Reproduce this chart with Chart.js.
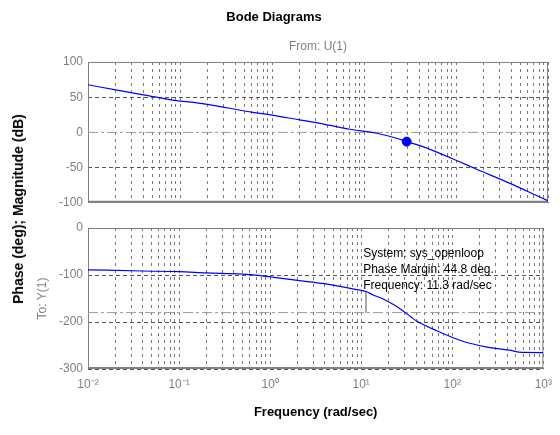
<!DOCTYPE html>
<html>
<head>
<meta charset="utf-8">
<script src="https://cdn.jsdelivr.net/npm/chart.js@4.4.1/dist/chart.umd.min.js"></script>
<style>
  html, body { margin: 0; padding: 0; background: #ffffff; }
  #wrap { position: relative; width: 560px; height: 435px; overflow: hidden; background: #fff; }
  #c1 { position: absolute; left: 0; top: 0; }
  #c2 { position: absolute; left: 0; top: 215px; }
  #ylab { position: absolute; left: 18px; top: 209px; transform: translate(-50%, -50%) rotate(-90deg);
          white-space: nowrap; font: bold 14px "Liberation Sans", Arial, sans-serif; color: #000; }
</style>
</head>
<body>
<div id="wrap">
  <canvas id="c1" width="560" height="215"></canvas>
  <canvas id="c2" width="560" height="220"></canvas>
  <div id="ylab">Phase (deg); Magnitude (dB)</div>
</div>
<script>
// ---------------- data ----------------
const magFreq  = [0.01, 0.02, 0.04, 0.08, 0.19, 0.6, 1, 2, 3, 7, 13.7, 22.6, 29.1, 40.6, 56.6, 100, 168, 386, 968, 1000];
const magDb    = [67.7, 60.3, 53.2, 46.3, 40.2, 28.8, 24.5, 17.8, 14, 4.5, -1.2, -8.3, -13.1, -18.8, -25.9, -39.5, -52.4, -72.4, -96.2, -97];
const phaseFreq = [0.01, 0.04, 0.1, 0.2, 0.5, 0.74, 1, 2, 3.93, 9.05, 11.3, 13.7, 17.9, 22.6, 29.1, 40.6, 67.6, 130.6, 234, 420, 586, 1000];
const phaseDeg  = [-89, -91.5, -93, -95.5, -98, -100.8, -104, -111.5, -118.5, -131.3, -135.2, -143, -152, -163, -177, -198, -218.5, -241, -253, -260, -264.7, -265];
const gmFreq = [29.1];          // gain-margin marker
const gmMag  = [-13.1];
const pmFreq = [11.3, 11.3];    // phase-margin indicator
const pmPhase = [-135.2, -180];
const magRef = 0;               // 0 dB reference
const phaseRef = -180;          // -180 deg reference
const xDomain = [0.01, 1000];
const xDecades = [0.01, 0.1, 1, 10, 100, 1000];
const xTickLabels = ['10\u207B\u00B2', '10\u207B\u00B9', '10\u2070', '10\u00B9', '10\u00B2', '10\u00B3'];
const xMinorMult = [2, 3, 4, 5, 6, 7, 8, 9];
const magTicks = [-100, -50, 0, 50, 100];
const phaseTicks = [-300, -200, -100, 0];
const annotLines = ['System: sys_openloop', 'Phase Margin: 44.8 deg.', 'Frequency: 11.3 rad/sec'];

// ---------------- helpers ----------------
const FONT = '"Liberation Sans", Arial, sans-serif';
const GRID_V = '#7a7a7a';
const GRID_H = '#555555';
const xTickValues = [];
xDecades.forEach((d, i) => {
  xTickValues.push(d);
  if (i < xDecades.length - 1) xMinorMult.forEach(m => xTickValues.push(+(d * m).toPrecision(6)));
});
const pts = (xs, ys) => xs.map((x, i) => ({ x: x, y: ys[i] }));

const framePlugin = {
  id: 'frame',
  beforeDatasetsDraw(chart) {
    const { ctx, chartArea: a } = chart;
    ctx.save();
    ctx.strokeStyle = '#808080';
    ctx.lineWidth = 1;
    ctx.setLineDash([]);
    ctx.strokeRect(a.left + 0.5, a.top + 0.5, a.right - a.left - 1, a.bottom - a.top - 1);
    ctx.lineWidth = 2;
    ctx.beginPath();
    ctx.moveTo(a.left, a.bottom - 1);
    ctx.lineTo(a.right, a.bottom - 1);
    ctx.stroke();
    ctx.restore();
  }
};

const annotPlugin = {
  id: 'annot',
  afterDatasetsDraw(chart, args, opts) {
    if (!opts || !opts.lines) return;
    const { ctx } = chart;
    const xs = chart.scales.x, ys = chart.scales.y;
    const x0 = xs.getPixelForValue(opts.freq);
    const y0 = ys.getPixelForValue(opts.phase);
    ctx.save();
    ctx.font = '12px ' + FONT;
    ctx.fillStyle = '#000';
    ctx.textBaseline = 'middle';
    ctx.textAlign = 'left';
    opts.lines.forEach((t, i) => ctx.fillText(t, x0, y0 + i * opts.spacing));
    ctx.restore();
  }
};

function xScale(showLabels) {
  return {
    type: 'logarithmic',
    min: xDomain[0], max: xDomain[1],
    afterBuildTicks: s => { s.ticks = xTickValues.map(v => ({ value: v })); },
    afterFit: s => { s.height = showLabels ? 66 : 0; },
    border: { display: false, dash: [3, 4] },
    grid: { color: GRID_V, lineWidth: 1, drawTicks: false },
    ticks: {
      display: showLabels, autoSkip: false, maxRotation: 0, minRotation: 0, padding: 8,
      color: '#808080', font: { family: FONT, size: 12 },
      callback: (v) => { const i = xDecades.indexOf(v); return i >= 0 ? xTickLabels[i] : ''; }
    },
    title: showLabels ? { display: true, text: 'Frequency (rad/sec)', color: '#000',
      font: { family: FONT, size: 13, weight: 'bold' }, padding: { top: 0, bottom: 15 } } : { display: false }
  };
}

function yScale(tickVals, hideVal, title) {
  return {
    min: tickVals[0], max: tickVals[tickVals.length - 1],
    afterBuildTicks: s => { s.ticks = tickVals.map(v => ({ value: v })); },
    afterFit: s => { s.width = 88; },
    border: { display: false, dash: [4, 3] },
    grid: { drawTicks: false, lineWidth: 1,
      color: c => (c.tick && c.tick.value === hideVal) ? 'rgba(0,0,0,0)' : GRID_H },
    ticks: { padding: 5, color: '#808080', font: { family: FONT, size: 12 } },
    title: title ? { display: true, text: title, color: '#808080',
      font: { family: FONT, size: 12 }, padding: { top: 35, bottom: 0 } } : { display: false }
  };
}

// ---------------- magnitude chart ----------------
new Chart(document.getElementById('c1'), {
  type: 'line',
  data: {
    datasets: [
      { data: pts(xDomain, xDomain.map(() => magRef)), borderColor: '#9a9a9a', borderWidth: 1,
        borderDash: [10, 3, 3, 3], pointRadius: 0, order: 3 },
      { data: pts(magFreq, magDb), borderColor: '#0000ff', borderWidth: 1.2, pointRadius: 0,
        cubicInterpolationMode: 'monotone', order: 2 },
      { data: pts(gmFreq, gmMag), showLine: false, pointRadius: 4.5, pointBackgroundColor: '#0000ff',
        pointBorderColor: '#0000ff', order: 1 }
    ]
  },
  options: {
    responsive: false, animation: false, devicePixelRatio: 1,
    layout: { padding: { left: 0, right: 12, top: 0, bottom: 12 } },
    plugins: {
      legend: { display: false }, tooltip: { enabled: false },
      title: { display: true, text: 'Bode Diagrams', color: '#000',
        font: { family: FONT, size: 13, weight: 'bold' }, padding: { top: 10, bottom: 14 } },
      subtitle: { display: true, text: 'From: U(1)', color: '#808080', fullSize: false,
        font: { family: FONT, size: 12 }, padding: { top: 0, bottom: 8 } }
    },
    scales: { x: xScale(false), y: yScale(magTicks, 0, null) }
  },
  plugins: [framePlugin]
});

// ---------------- phase chart ----------------
new Chart(document.getElementById('c2'), {
  type: 'line',
  data: {
    datasets: [
      { data: pts(xDomain, xDomain.map(() => phaseRef)), borderColor: '#9a9a9a', borderWidth: 1,
        borderDash: [10, 3, 3, 3], pointRadius: 0, order: 3 },
      { data: pts(pmFreq, pmPhase), borderColor: '#9a9a9a', borderWidth: 1, pointRadius: 0, order: 2 },
      { data: pts(phaseFreq, phaseDeg), borderColor: '#0000ff', borderWidth: 1.2, pointRadius: 0,
        cubicInterpolationMode: 'monotone', order: 1 }
    ]
  },
  options: {
    responsive: false, animation: false, devicePixelRatio: 1,
    layout: { padding: { left: 0, right: 12, top: 13, bottom: 0 } },
    plugins: {
      legend: { display: false }, tooltip: { enabled: false },
      annot: { lines: annotLines, freq: 10.5, phase: -55, spacing: 16 }
    },
    scales: { x: xScale(true), y: yScale(phaseTicks, null, 'To: Y(1)') }
  },
  plugins: [framePlugin, annotPlugin]
});
</script>
</body>
</html>
